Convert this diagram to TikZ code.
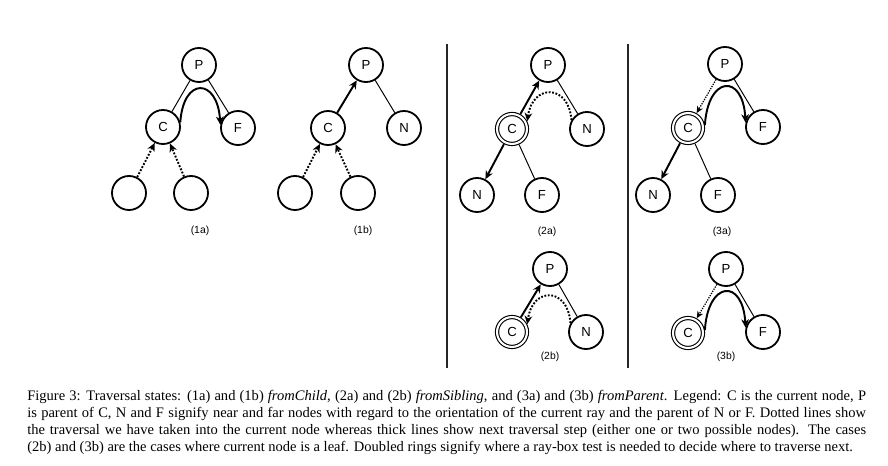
\documentclass[tikz,border=0pt]{standalone}
\usepackage{fontspec}
\setmainfont{Liberation Serif}
\setsansfont{Liberation Sans}
\usetikzlibrary{arrows.meta}

\begin{document}
\begin{tikzpicture}[
    x=0.0254cm, y=-0.0254cm,
    every node/.style={font=\sffamily\fontsize{9.5}{11}\selectfont},
    tnode/.style={circle, draw, line width=1.3pt, minimum size=0.864cm, inner sep=0pt},
    ring/.style={circle, draw, double, line width=0.8pt, double distance=1.5pt, minimum size=0.76cm, inner sep=0pt, outer sep=1.6pt},
    link/.style={line width=0.7pt},
    arrow/.style={-{Stealth[length=6pt, width=5.5pt, inset=1.8pt]}, line width=1.4pt},
    dots/.style={-{Stealth[length=6pt, width=5.5pt, inset=1.8pt]}, dash pattern=on 1.3pt off 1.2pt, line width=1.4pt},
    thindots/.style={-{Stealth[length=5pt, width=4.5pt, inset=1.5pt]}, dash pattern=on 0.9pt off 0.9pt, line width=0.9pt},
    caselabel/.style={font=\sffamily\fontsize{7.5}{9}\selectfont}
]
\useasboundingbox (0,0) rectangle (888,466);

% ============ (1a) ============
\node[tnode] (p1a) at (199,65) {P};
\node[tnode] (c1a) at (163,127) {C};
\node[tnode] (f1a) at (238,128) {F};
\node[tnode] (l1a) at (129,193) {};
\node[tnode] (r1a) at (191,193) {};
\draw[link] (p1a) -- (c1a);
\draw[link] (p1a) -- (f1a);
\draw[arrow] (c1a.15) .. controls +(3,-46) and +(-3,-47) .. (f1a.170);
\draw[dots] (l1a) -- (c1a);
\draw[dots] (r1a) -- (c1a);
\node[caselabel] (t1a) at (200,231) {(1a)};

% ============ (1b) ============
\node[tnode] (p1b) at (366,65) {P};
\node[tnode] (c1b) at (328,128) {C};
\node[tnode] (n1b) at (404,128) {N};
\node[tnode] (l1b) at (295,193) {};
\node[tnode] (r1b) at (358,193) {};
\draw[arrow] (c1b) -- (p1b);
\draw[link] (p1b) -- (n1b);
\draw[dots] (l1b) -- (c1b);
\draw[dots] (r1b) -- (c1b);
\node[caselabel] (t1b) at (363,231) {(1b)};

% separators
\coordinate (s1) at (447,44);
\coordinate (s2) at (447,368);
\coordinate (s3) at (628,44);
\coordinate (s4) at (628,368);
\draw[line width=0.8pt, black!85] (s1) -- (s2);
\draw[line width=0.8pt, black!85] (s3) -- (s4);

% ============ (2a) ============
\node[tnode] (p2a) at (548,65) {P};
\node[ring] (c2a) at (512,129) {C};
\node[tnode] (n2a) at (587,129) {N};
\node[tnode] (m2a) at (477,195) {N};
\node[tnode] (g2a) at (542,195) {F};
\draw[arrow] (c2a) -- (p2a);
\draw[link] (p2a) -- (n2a);
\draw[dots] (n2a.150) .. controls +(-3,-37) and +(5,-37) .. (c2a.27);
\draw[arrow] (c2a) -- (m2a);
\draw[link] (c2a) -- (g2a);
\node[caselabel] (t2a) at (547,232) {(2a)};

% ============ (3a) ============
\node[tnode] (p3a) at (725,64) {P};
\node[ring] (c3a) at (688,128) {C};
\node[tnode] (f3a) at (763,127) {F};
\node[tnode] (m3a) at (653,195) {N};
\node[tnode] (g3a) at (718,195) {F};
\draw[thindots] (p3a) -- (c3a);
\draw[link] (p3a) -- (f3a);
\draw[arrow] (c3a.10) .. controls +(3,-49) and +(-3,-50) .. (f3a.166);
\draw[arrow] (c3a) -- (m3a);
\draw[link] (c3a) -- (g3a);
\node[caselabel] (t3a) at (722,232) {(3a)};

% ============ (2b) ============
\node[tnode] (p2b) at (550,269) {P};
\node[ring] (c2b) at (512,332) {C};
\node[tnode] (n2b) at (586,332) {N};
\draw[arrow] (c2b) -- (p2b);
\draw[link] (p2b) -- (n2b);
\draw[dots] (n2b.150) .. controls +(-3,-37) and +(5,-37) .. (c2b.27);
\node[caselabel] (t2b) at (550,357) {(2b)};

% ============ (3b) ============
\node[tnode] (p3b) at (726,269) {P};
\node[ring] (c3b) at (688,333) {C};
\node[tnode] (f3b) at (763,332) {F};
\draw[thindots] (p3b) -- (c3b);
\draw[link] (p3b) -- (f3b);
\draw[arrow] (c3b.10) .. controls +(3,-49) and +(-3,-50) .. (f3b.166);
\node[caselabel] (t3b) at (726,357) {(3b)};

% caption
\node[anchor=base west, text width=21.31cm, align=justify, inner sep=0pt,
      font=\rmfamily\fontsize{10.5}{12.2}\selectfont] (caption) at (27,401) {%
\parfillskip=0pt
Figure 3: Traversal states: (1a) and (1b) \textit{fromChild}, (2a) and (2b) \textit{fromSibling}, and (3a) and (3b) \textit{fromParent}. Legend: C is the current node, P\linebreak
is parent of C, N and F signify near and far nodes with regard to the orientation of the current ray and the parent of N or F. Dotted lines show\linebreak
the traversal we have taken into the current node whereas thick lines show next traversal step (either one or two possible nodes). The cases\linebreak
(2b) and (3b) are the cases where current node is a leaf. Doubled rings signify where a ray-box test is needed to decide where to traverse next.};

\end{tikzpicture}
\end{document}
